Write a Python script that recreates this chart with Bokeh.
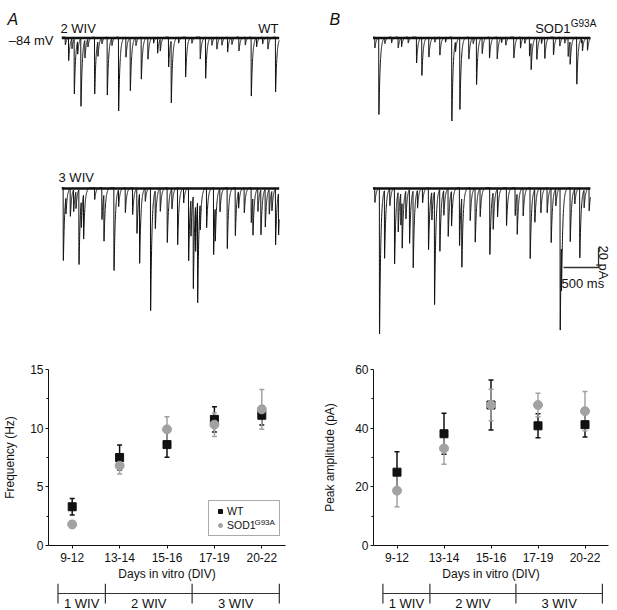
import numpy as np
from bokeh.plotting import figure
from bokeh.models import (Range1d, FactorRange, ColumnDataSource, Whisker, TeeHead,
                          Legend, LegendItem, Label, FixedTicker)
from bokeh.layouts import column, row
from bokeh.embed import file_html
from bokeh.resources import INLINE
from bokeh.core.properties import value

FONT = "Liberation Sans"
INK = "#111111"
GREY = "#a2a2a2"

# ---------------- recorded events (time in ms, amplitude in pA) ----------------
TRACE_MS = 3105
A2_T = [48, 95, 143, 176, 224, 271, 328, 371, 467, 514, 571, 647, 714, 809, 914, 976, 1057,
        1133, 1228, 1309, 1366, 1404, 1523, 1561, 1666, 1766, 1856, 1975, 2052, 2142, 2213,
        2285, 2366, 2428, 2528, 2618, 2704, 2780, 2866, 2942, 3051]
A2_A = [8, 23, 10, 55, 13, 68, 18, 8, 57, 15, 6, 58, 7, 74, 20, 53, 8,
        42, 22, 6, 16, 12, 30, 62, 6, 40, 6, 22, 41, 8, 12,
        8, 15, 7, 14, 8, 59, 9, 7, 12, 55]
B2_T = [24, 81, 167, 262, 357, 405, 500, 619, 695, 795, 881, 952, 1033, 1123, 1176, 1238,
        1366, 1428, 1476, 1557, 1661, 1771, 1833, 1894, 2009, 2104, 2166, 2233, 2256, 2337,
        2404, 2451, 2575, 2666, 2737, 2785, 2813, 2908, 2975, 2989, 3061]
B2_A = [11, 77, 6, 6, 11, 9, 6, 26, 38, 20, 5, 18, 5, 84, 10, 72,
        22, 6, 47, 16, 21, 22, 5, 8, 21, 11, 6, 19, 27, 22,
        6, 21, 18, 9, 6, 19, 23, 47, 5, 11, 13]
A3_T = [19, 57, 119, 167, 200, 243, 276, 309, 467, 571, 600, 743, 809, 905, 1009, 1071, 1109,
        1190, 1266, 1333, 1404, 1504, 1571, 1652, 1738, 1809, 1843, 1876, 1909, 1938, 1975,
        2066, 2166, 2190, 2257, 2361, 2476, 2523, 2604, 2704, 2728, 2799, 2842, 2904, 2961,
        2999, 3051, 3094]
A3_A = [73, 17, 28, 22, 17, 75, 27, 45, 12, 32, 47, 83, 17, 25, 27, 45, 70,
        13, 123, 38, 23, 55, 20, 57, 15, 73, 37, 93, 47, 102, 27,
        40, 67, 35, 23, 61, 48, 17, 25, 35, 38, 23, 45, 38, 25,
        20, 56, 42]
B3_T = [24, 90, 162, 238, 305, 357, 395, 414, 467, 519, 571, 633, 705, 790, 838, 876, 952,
        1009, 1071, 1119, 1233, 1266, 1385, 1457, 1528, 1666, 1714, 1776, 1904, 2028, 2057,
        2142, 2242, 2309, 2395, 2485, 2542, 2609, 2671, 2690, 2814, 2880, 2951, 3013, 3085]
B3_A = [15, 146, 68, 17, 76, 40, 32, 47, 28, 54, 77, 18, 15, 62, 28, 113, 62,
        25, 48, 35, 58, 70, 33, 54, 28, 67, 37, 28, 38, 28, 41,
        28, 71, 33, 25, 25, 54, 17, 142, 50, 54, 15, 70, 18, 23]

# ---------------- summary data ----------------
CATS = ["9-12", "13-14", "15-16", "17-19", "20-22"]
FREQ_WT = [3.3, 7.5, 8.6, 10.75, 11.1]
FREQ_WT_SEM = [0.7, 1.07, 1.08, 1.07, 0.82]
FREQ_SOD = [1.8, 6.8, 9.9, 10.3, 11.6]
FREQ_SOD_SEM = [0.3, 0.7, 1.08, 1.0, 1.7]
AMP_WT = [25.0, 38.1, 47.9, 40.8, 41.2]
AMP_WT_SEM = [7.0, 7.0, 8.5, 4.1, 4.2]
AMP_SOD = [18.7, 33.1, 47.9, 47.9, 45.8]
AMP_SOD_SEM = [5.5, 5.4, 5.4, 4.0, 6.7]
WEEK_LABELS = ["1 WIV", "2 WIV", "3 WIV"]
WEEK_EDGES = [0.2, 1.2, 3.03, 4.87]

# layout constants for the trace panel
B_OFFSET = 4446      # ms between the start of A traces and B traces
ROW2 = -150.5        # pA offset of the 3 WIV traces
SCALE_T, SCALE_PA = 500, 20
SCALE_X0, SCALE_Y0 = 7167, -230.5


def build_trace(times, amps, duration=TRACE_MS, t_rise=1.0, t_decay=18.0):
    t = np.arange(0.0, duration + 1.0, 1.0)
    s_pk = t_rise * np.log((t_rise + t_decay) / t_rise)
    k_pk = (1 - np.exp(-s_pk / t_rise)) * np.exp(-s_pk / t_decay)
    y = np.zeros_like(t)
    for ti, ai in zip(times, amps):
        s = t - ti
        m = s > 0
        y[m] -= ai * (1 - np.exp(-s[m] / t_rise)) * np.exp(-s[m] / t_decay) / k_pk
    return t, y


def lab(p, x, y, text, size, align="left", baseline="alphabetic", style="normal",
        angle=0.0, level="annotation"):
    p.add_layout(Label(x=x, y=y, text=text, text_font=FONT, text_font_size=f"{size}px",
                       text_align=align, text_baseline=baseline, text_font_style=style,
                       angle=angle, text_color=INK, level=level))


# ---------------- traces (A, B) ----------------
top = figure(width=617, height=345, title=None, x_range=Range1d(-876, 7938),
             y_range=Range1d(-308.5, 36.5), x_axis_location=None, y_axis_location=None,
             output_backend="svg", toolbar_location=None, min_border=0,
             outline_line_color=None)
top.xgrid.visible = False
top.ygrid.visible = False

for tt, aa, dx, dy in [(A2_T, A2_A, 0, 0), (B2_T, B2_A, B_OFFSET, 0),
                       (A3_T, A3_A, 0, ROW2), (B3_T, B3_A, B_OFFSET, ROW2)]:
    t, y = build_trace(tt, aa)
    top.line(t + dx, y + dy, line_color=INK, line_width=1.0)
    top.line([dx, dx + TRACE_MS], [dy - 1, dy - 1], line_color=INK, line_width=2.5)

# scale bar
top.line([SCALE_X0, SCALE_X0 + SCALE_T, SCALE_X0 + SCALE_T],
         [SCALE_Y0, SCALE_Y0, SCALE_Y0 + SCALE_PA], line_color="#333333", line_width=1.3)
lab(top, SCALE_X0 - 29, SCALE_Y0 - 16, "500 ms", 13)
lab(top, SCALE_X0 + SCALE_T + 71, SCALE_Y0 + SCALE_PA / 2 - 5, "20 pA", 13,
    align="center", angle=-np.pi / 2)

lab(top, -776, 18, "A", 16, style="italic")
lab(top, 3824, 18, "B", 16, style="italic")
lab(top, -19, 8.2, "2 WIV", 13)
lab(top, 3095, 8.2, "WT", 13, align="right")
lab(top, -119, -3.5, "\u201384 mV", 13, align="right")
lab(top, -47, -140.5, "3 WIV", 13)
lab(top, 7267, 8.2, "SOD1", 13, align="right")
lab(top, 7270, 13.8, "G93A", 10)


# ---------------- summary panels (C, D) ----------------
def panel(width, left, right, y_end, major, minor, ylabel, wt, wt_sem, sod, sod_sem,
          letter, letter_x, ylabel_standoff):
    p = figure(width=width, height=238, title=None, x_range=FactorRange(*CATS),
               y_range=Range1d(0, y_end), min_border_left=left, min_border_right=right,
               min_border_top=24, min_border_bottom=36, output_backend="svg",
               toolbar_location=None, outline_line_color=None)
    p.xgrid.visible = False
    p.ygrid.visible = False
    for ax in (p.xaxis, p.yaxis):
        ax.axis_line_color = INK
        ax.axis_line_width = 1
        ax.major_tick_line_color = INK
        ax.minor_tick_line_color = INK
        ax.major_tick_out = 3
        ax.major_tick_in = 0
        ax.minor_tick_out = 2
        ax.minor_tick_in = 0
        ax.major_label_text_font = FONT
        ax.major_label_text_font_size = "12px"
        ax.major_label_text_color = INK
        ax.axis_label_text_font = FONT
        ax.axis_label_text_font_size = "12px"
        ax.axis_label_text_font_style = "normal"
        ax.axis_label_text_color = INK
    p.xaxis.axis_label = "Days in vitro (DIV)"
    p.xaxis.major_label_standoff = 4
    p.xaxis.axis_label_standoff = 2
    p.yaxis.axis_label = ylabel
    p.yaxis.ticker = FixedTicker(ticks=major, minor_ticks=minor)
    p.yaxis.major_label_standoff = 2
    p.yaxis.axis_label_standoff = ylabel_standoff

    src_wt = ColumnDataSource(dict(x=CATS, y=wt,
                                   lo=[a - b for a, b in zip(wt, wt_sem)],
                                   hi=[a + b for a, b in zip(wt, wt_sem)]))
    src_sod = ColumnDataSource(dict(x=CATS, y=sod,
                                    lo=[a - b for a, b in zip(sod, sod_sem)],
                                    hi=[a + b for a, b in zip(sod, sod_sem)]))
    for src, col in ((src_wt, INK), (src_sod, GREY)):
        p.add_layout(Whisker(source=src, base="x", upper="hi", lower="lo",
                             line_color=col, line_width=1.5,
                             upper_head=TeeHead(size=5, line_color=col, line_width=1.5),
                             lower_head=TeeHead(size=5, line_color=col, line_width=1.5)))
    wt_r = p.scatter("x", "y", source=src_wt, marker="square", size=8, color=INK)
    sod_r = p.scatter("x", "y", source=src_sod, marker="circle", size=9, color=GREY)
    lab(p, letter_x, y_end * 1.02, letter, 16, style="italic")
    return p, wt_r, sod_r


c, c_wt, c_sod = panel(320, 43, 35, 15, [0, 5, 10, 15], [2.5, 7.5, 12.5], "Frequency (Hz)",
                       FREQ_WT, FREQ_WT_SEM, FREQ_SOD, FREQ_SOD_SEM, "C", -0.74, 10)
d, _, _ = panel(297, 46, 9, 60, [0, 20, 40, 60], [10, 30, 50], "Peak amplitude (pA)",
                AMP_WT, AMP_WT_SEM, AMP_SOD, AMP_SOD_SEM, "D", -0.81, 15)

legend = Legend(items=[LegendItem(label="WT", renderers=[c_wt]),
                       LegendItem(label="SOD1", renderers=[c_sod])],
                location=(160, 9), margin=0, padding=4, spacing=2,
                glyph_width=14, glyph_height=10, label_height=10, label_width=48,
                label_standoff=0, label_text_font=FONT, label_text_font_size="10.5px",
                label_text_color=INK, border_line_color="#555555", border_line_width=1,
                background_fill_alpha=0)
c.add_layout(legend)
lab(c, 4.345, 1.95, "G93A", 8, level="overlay")


def weeks(width, left, right):
    b = figure(width=width, height=27, title=None, x_range=Range1d(0, 5),
               y_range=Range1d(0, 27), min_border_left=left, min_border_right=right,
               min_border_top=0, min_border_bottom=0, x_axis_location=None,
               y_axis_location=None, output_backend="svg", toolbar_location=None,
               outline_line_color=None)
    b.xgrid.visible = False
    b.ygrid.visible = False
    b.line([WEEK_EDGES[0], WEEK_EDGES[-1]], [17, 17], line_color="#333333", line_width=1.2)
    b.segment(x0=WEEK_EDGES, y0=[7] * len(WEEK_EDGES), x1=WEEK_EDGES,
              y1=[27] * len(WEEK_EDGES), line_color="#333333", line_width=1.2)
    mids = [(WEEK_EDGES[i] + WEEK_EDGES[i + 1]) / 2 for i in range(len(WEEK_LABELS))]
    b.text(x=mids, y=[0] * len(mids), text=WEEK_LABELS, text_font=value(FONT),
           text_font_size="13px", text_align="center", text_baseline="bottom",
           text_color=INK)
    return b


cb = weeks(320, 43, 35)
db = weeks(297, 46, 9)

page = column(top, row(column(c, cb), column(d, db)))
open("out.html", "w").write(file_html(page, INLINE))
